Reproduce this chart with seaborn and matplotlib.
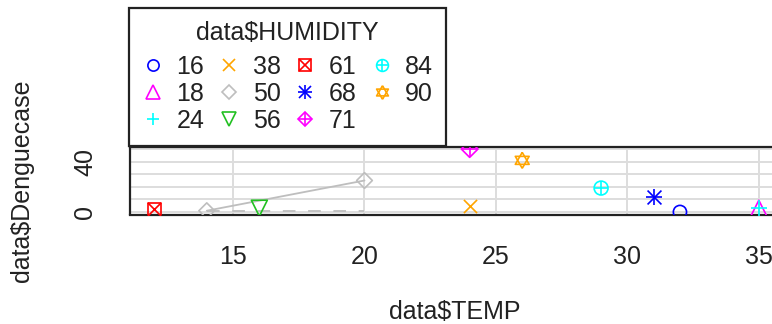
import numpy as np
import pandas as pd
import matplotlib
matplotlib.use("Agg")
import matplotlib.pyplot as plt
from matplotlib.lines import Line2D
from matplotlib.legend_handler import HandlerTuple
import seaborn as sns

# data
humidity = [16, 18, 24, 38, 50, 50, 56, 61, 68, 71, 84, 90]
temp = [32, 35, 35, 24, 14, 20, 16, 12, 31, 24, 29, 26]
denguecase = [0, 3, 3, 5, 1, 25, 3, 2, 12, 50, 19, 41]

# the grey line and the dashed grey line near zero
line_x = [14, 20]
line_y = [1, 25]
dash_x = [14, 20]
dash_y = [0.5, 0.5]

levels = [16, 18, 24, 38, 50, 56, 61, 68, 71, 84, 90]
x_ticks = [15, 20, 25, 30, 35]
y_ticks = [0, 10, 20, 30, 40, 50]
y_ticklabels = ["0", "", "", "", "40", ""]

# R-like colours and pch symbols
palette = ["blue", "magenta", "cyan", "orange", "#BEBEBE", "#22C022", "red"]
star_up = [(0, 1), (-0.866, -0.5), (0.866, -0.5), (0, 1)]
star_dn = [(0, -1), (-0.866, 0.5), (0.866, 0.5), (0, -1)]
pch = {
    16: [("o", 9.5)],
    18: [("^", 11.5)],
    24: [("+", 11)],
    38: [("x", 9.5)],
    50: [("D", 8)],
    56: [("v", 11.5)],
    61: [("s", 9.5), ("x", 9.5)],
    68: [("+", 12), ("x", 10)],
    71: [("D", 8.5), ("+", 12)],
    84: [("o", 10), ("+", 10)],
    90: [(star_up, 11.5), (star_dn, 11.5)],
}
unfilled = {"+", "x"}

df = pd.DataFrame({"HUMIDITY": humidity, "TEMP": temp, "Denguecase": denguecase})

sns.set_theme(style="white")
plt.rcParams["font.family"] = ["Liberation Sans", "DejaVu Sans"]

fig = plt.figure(figsize=(7.72, 3.24), dpi=100)
ax = fig.add_axes([130 / 772, 109.5 / 324, 653 / 772, 68 / 324])

handles = []
for i, lev in enumerate(levels):
    col = palette[i % len(palette)]
    sub = df[df["HUMIDITY"] == lev]
    parts = []
    for m, ms in pch[lev]:
        if isinstance(m, str) and m in unfilled:
            sns.scatterplot(data=sub, x="TEMP", y="Denguecase", marker=m, s=ms ** 2,
                            color=col, linewidth=1.2, ax=ax, zorder=3)
        else:
            sns.scatterplot(data=sub, x="TEMP", y="Denguecase", marker=m, s=ms ** 2,
                            color=col, facecolor="none", edgecolor=col,
                            linewidth=1.2, ax=ax, zorder=3)
        # legend symbols are a bit smaller than the plotted ones
        parts.append(Line2D([], [], linestyle="", marker=m, markersize=ms * 0.85,
                            color=col, markerfacecolor="none", markeredgecolor=col,
                            markeredgewidth=1.2))
    handles.append(tuple(parts))

sns.lineplot(x=line_x, y=line_y, color="#BEBEBE", linewidth=1.3, ax=ax, zorder=2)
sns.lineplot(x=dash_x, y=dash_y, color="#BEBEBE", linewidth=1.3,
             linestyle=(0, (7, 7)), ax=ax, zorder=2)

ax.set_xlim(11.08, 35.92)
ax.set_ylim(-2, 52)
ax.set_xticks(x_ticks)
ax.set_xticklabels([str(t) for t in x_ticks])
ax.set_yticks(y_ticks)
ax.set_yticklabels(y_ticklabels)

ax.grid(True, color="#DDDDDD", linewidth=1.4)
ax.set_axisbelow(True)
for sp in ax.spines.values():
    sp.set_color("#222222")
    sp.set_linewidth(1.6)

ax.tick_params(axis="both", direction="out", length=10.8, width=1.2, color="#333333",
               labelsize=18, labelcolor="#222222")
ax.tick_params(axis="x", pad=11)
ax.tick_params(axis="y", pad=13, labelrotation=90)
for lbl in ax.get_yticklabels():
    lbl.set_va("center")

ax.set_xlabel("data$TEMP", fontsize=18, color="#222222")
ax.set_ylabel("data$Denguecase", fontsize=18, color="#222222")
ax.xaxis.set_label_coords((455 - 130) / 653, (214.5 - 300) / 68)
ax.yaxis.set_label_coords((34 - 130) / 653, 0.5)

leg = fig.legend(handles, [str(l) for l in levels], ncol=4, title="data$HUMIDITY",
                 loc="upper left", bbox_to_anchor=(129 / 772, 1 - 8 / 324),
                 handler_map={tuple: HandlerTuple(ndivide=1, pad=0)},
                 fontsize=18, title_fontsize=18, frameon=True, fancybox=False,
                 framealpha=1, edgecolor="#222222", borderpad=0.5,
                 handlelength=0.92, handletextpad=0.48, columnspacing=0.53,
                 labelspacing=0.12, borderaxespad=0)
leg.get_frame().set_linewidth(1.6)
leg._legend_box.sep = 7.7  # gap between title and entries
for t in leg.get_texts():
    t.set_color("#222222")
leg.get_title().set_color("#222222")

fig.savefig("out.png", dpi=100)
